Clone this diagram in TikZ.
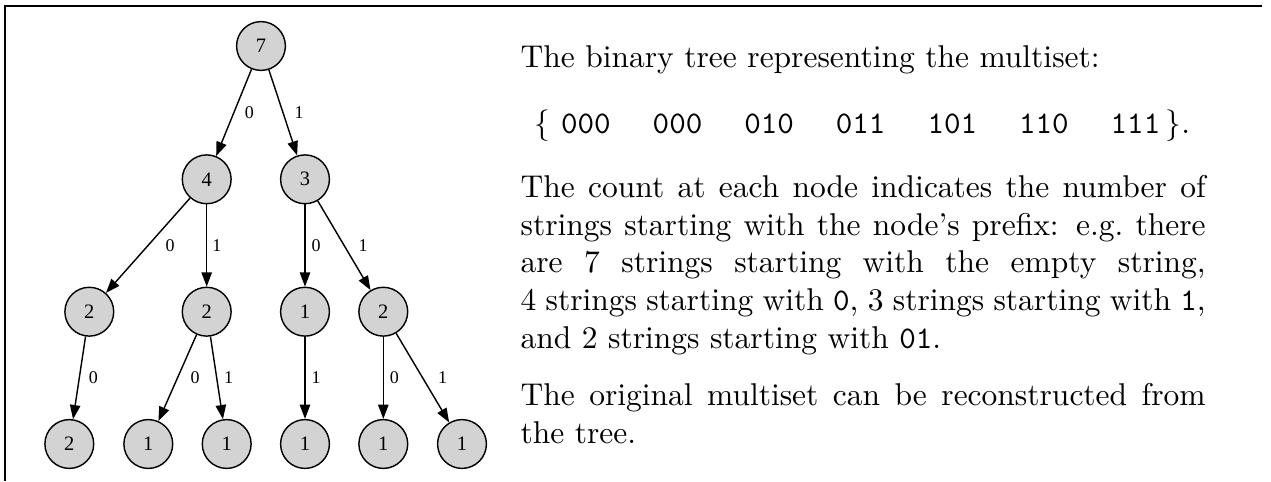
\documentclass[tikz,border=0pt]{standalone}
\usepackage{fontspec}
\newfontfamily\treefont{Liberation Serif}
\usetikzlibrary{arrows.meta}
\definecolor{nodegray}{HTML}{D3D3D3}
\tikzset{
  count/.style={circle, draw, line width=0.45pt, fill=nodegray, minimum size=15.5pt,
    inner sep=0pt, font=\treefont\fontsize{6.5}{7.5}\selectfont},
  branch/.style={line width=0.45pt, -{Triangle[length=4.5pt,width=3.3pt]}},
  bit/.style={pos=0.5, inner sep=0pt, font=\treefont\fontsize{5.7}{6.5}\selectfont},
  prose/.style={anchor=base west, inner sep=0pt, font=\fontsize{10}{12}\selectfont},
  frame/.style={line width=0.63pt},
}
\begin{document}
\begin{tikzpicture}[x=0.3175pt, y=-0.3175pt]
  \useasboundingbox (0,0) rectangle (1271,481);
  % frame
  \coordinate (fr) at (1262,6);
  \coordinate (fc) at (5,6);
  \coordinate (fb) at (5,481);
  \draw[frame] (fr) -- (fc) -- (fb);

  % tree of prefix counts
  \node[count] (n)   at (261,46)    {7};
  \node[count] (n0)  at (206.7,179.3) {4};
  \node[count] (n1)  at (305,179.3)   {3};
  \node[count] (n00) at (89.3,311.7)  {2};
  \node[count] (n01) at (206.7,311.7) {2};
  \node[count] (n10) at (305,311.7)   {1};
  \node[count] (n11) at (383.3,311.7) {2};
  \node[count] (n000) at (69.3,444)  {2};
  \node[count] (n010) at (148.3,444) {1};
  \node[count] (n011) at (226.7,444) {1};
  \node[count] (n101) at (305,444)   {1};
  \node[count] (n110) at (383.3,444) {1};
  \node[count] (n111) at (462,444)   {1};

  \draw[branch] (n)   -- node[bit, xshift=4.9pt]  {0} (n0);
  \draw[branch] (n)   -- node[bit, xshift=5.1pt]  {1} (n1);
  \draw[branch] (n0)  -- node[bit, xshift=7.0pt]  {0} (n00);
  \draw[branch] (n0)  -- node[bit, xshift=3.2pt]  {1} (n01);
  \draw[branch] (n1)  -- node[bit, xshift=3.5pt]  {0} (n10);
  \draw[branch] (n1)  -- node[bit, xshift=6.0pt]  {1} (n11);
  \draw[branch] (n00) -- node[bit, xshift=4.45pt] {0} (n000);
  \draw[branch] (n01) -- node[bit, xshift=5.6pt]  {0} (n010);
  \draw[branch] (n01) -- node[bit, xshift=3.8pt]  {1} (n011);
  \draw[branch] (n10) -- node[bit, xshift=3.5pt]  {1} (n101);
  \draw[branch] (n11) -- node[bit, xshift=3.5pt]  {0} (n110);
  \draw[branch] (n11) -- node[bit, xshift=6.35pt] {1} (n111);

  % explanation
  \node[prose] (title) at (520,67.3) {The binary tree representing the multiset:};
  \node[prose, anchor=base] (set) at (862.5,133.3)
    {$\{$\ \texttt{000}\quad\ \texttt{000}\quad\ \texttt{010}\quad\ \texttt{011}\quad\ \texttt{101}\quad\ \texttt{110}\quad\ \texttt{111}\,$\}$.};
  \node[prose] (meaning) at (520,197.3) {\parbox[t]{217.5pt}{The count at each node indicates the number of\linebreak
    strings starting with the node's prefix: e.g.\ there\linebreak
    are 7 strings starting with the empty string,\linebreak
    4 strings starting with \texttt{0}, 3 strings starting with \texttt{1},\linebreak
    and 2 strings starting with \texttt{01}.}};
  \node[prose] (rebuild) at (520,405.8) {\parbox[t]{217.5pt}{The original multiset can be reconstructed from\linebreak
    the tree.}};
\end{tikzpicture}
\end{document}
